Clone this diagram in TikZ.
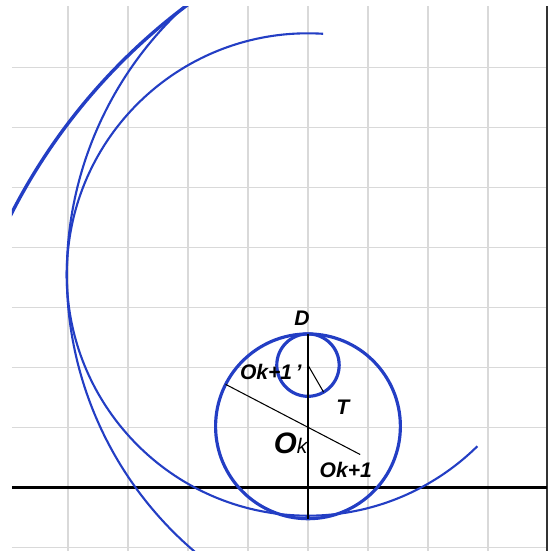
\documentclass[tikz,border=0pt]{standalone}
\usepackage{fontspec}
\setmainfont{Liberation Sans}
\usetikzlibrary{calc}
\definecolor{arcblue}{RGB}{35,62,196}
\begin{document}
\begin{tikzpicture}[line width=.6pt,
  gridline/.style={gray!30,line width=.9pt},
  spiral/.style={arcblue,line width=1pt},
  lbl/.style={font=\bfseries\itshape\fontsize{10}{10}\selectfont,inner sep=0pt}]
\useasboundingbox (-5.133,-1.058) rectangle (4,8.125);
% grid and axis
\foreach \x in {-4,...,3}
  \draw[gridline] (\x,-1.058) -- (\x,8.025);
\foreach \y in {-1,...,7}
  \draw[gridline] (-4.933,\y) -- (3.98,\y);
\draw[black!80,line width=1.1pt] (3.98,-1.058) -- (3.98,8.025);
\draw[line width=1.1pt] (-4.933,0) -- (3.98,0);
% points
\coordinate (Ok) at (0,1.02);
\coordinate (Okp) at (0,2.04);
\coordinate (D) at (0,2.56);
\coordinate (B) at (0,-0.52);
\coordinate (A) at ($(Ok)+(153:1.54)$);
\coordinate (Ok1) at (0.87,0.55);
\coordinate (T) at ($(Okp)+(-60:0.52)$);
% big arcs
\begin{scope}
  \clip (-4.933,-1.058) rectangle (4,8.025);
  \draw[spiral,line width=1.6pt] (4,0) ++(120:10.04) arc (120:160:10.04);
  \draw[spiral] (2.05,3.55) ++(125:6.07) arc (125:235:6.07);
\end{scope}
\draw[spiral] (0,3.55) ++(86.4:4.02) arc (86.4:314.6:4.02);
% circles
\draw[arcblue,line width=1.5pt] (Ok) circle (1.54);
\draw[arcblue,line width=1.5pt] (Okp) circle (0.52);
\draw (D) -- (B);
\draw[line width=.5pt] (A) -- (Ok1);
\draw[line width=.5pt] (Okp) -- (T);
% labels
\node[lbl] (labD) at (-0.1,2.82) {D};
\node[lbl] (labOkp) at (-0.62,1.92) {Ok+1\,'};
\node[lbl] (labT) at (0.58,1.34) {T};
\node[lbl] (labOk) at (-0.29,0.73) {{\fontsize{14}{14}\selectfont O}\mdseries k};
\node[lbl] (labOk1) at (0.63,0.29) {Ok+1};
\end{tikzpicture}
\end{document}
